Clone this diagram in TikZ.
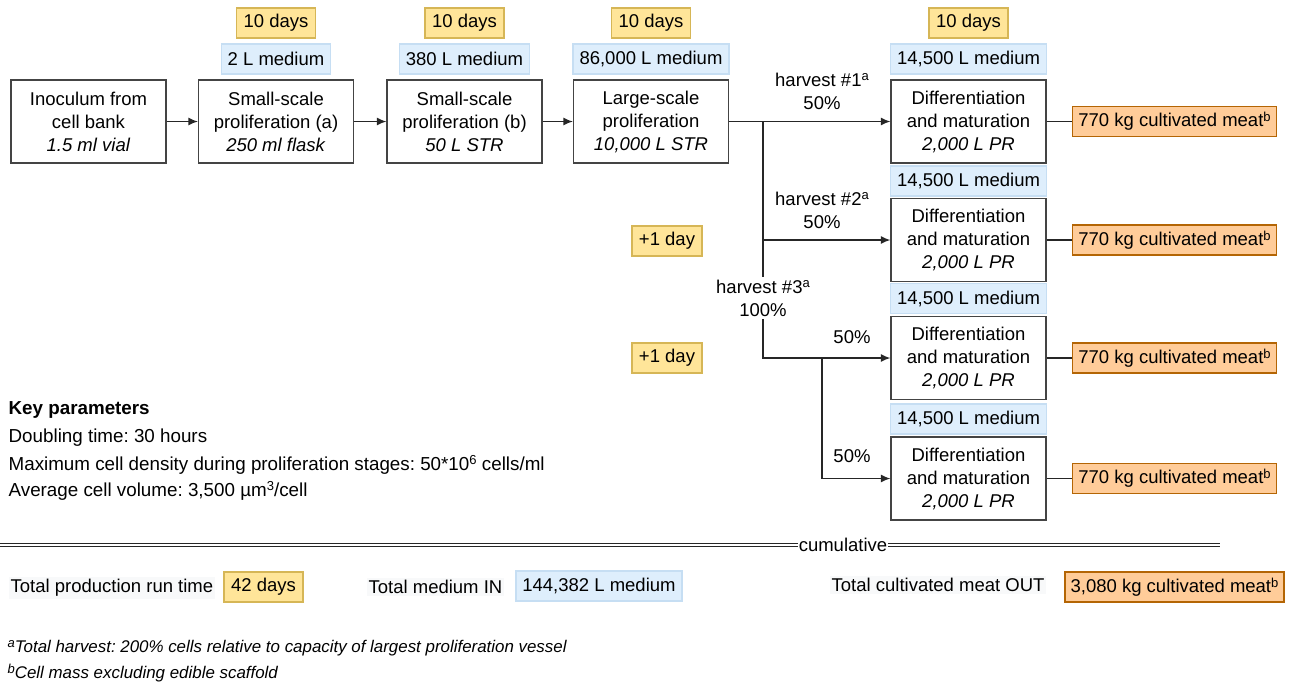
\documentclass[tikz,border=0pt]{standalone}
\usepackage{fontspec}
\setmainfont{Liberation Sans}
\usetikzlibrary{arrows.meta}
\frenchspacing
\definecolor{daysfill}{HTML}{FFE599}
\definecolor{daysline}{HTML}{D6B656}
\definecolor{medfill}{HTML}{DEEEFC}
\definecolor{medline}{HTML}{C6DEF3}
\definecolor{meatfill}{HTML}{FFCC99}
\definecolor{meatline}{HTML}{B46504}
\definecolor{boxline}{HTML}{444444}
\definecolor{notefill}{HTML}{F8F9FA}
\newcommand{\supr}[1]{\raisebox{0.55ex}{\fontsize{13}{13}\selectfont #1}}

\begin{document}
\begin{tikzpicture}[x=1pt,y=-1pt,->,>={Latex[length=9.5pt,width=8pt]},line width=1.3pt,draw=black!85,
  every node/.style={font=\fontsize{18.5}{23}\selectfont},
  stage/.style={draw=boxline,fill=white,minimum width=155pt,minimum height=83pt,align=center,inner sep=0pt},
  days/.style={draw=daysline,fill=daysfill,minimum height=30pt,inner xsep=7pt,inner ysep=0pt},
  medium/.style={draw=medline,fill=medfill,minimum height=30pt,inner xsep=6.5pt,inner ysep=0pt},
  meat/.style={draw=meatline,fill=meatfill,minimum height=30pt,inner xsep=5.5pt,inner ysep=0pt},
  split/.style={align=center,inner sep=2pt},
  total/.style={fill=notefill,inner sep=2pt},
  param/.style={anchor=west,inner sep=0pt,font=\fontsize{18.8}{23}\selectfont},
  note/.style={anchor=west,inner sep=0pt,font=\fontsize{16.9}{20}\selectfont\itshape}]
  \useasboundingbox (0,0) rectangle (1293,686);

  \node[stage] (inoc) at (88.5,121.5) {Inoculum from\\cell bank\\\textit{1.5 ml vial}};
  \node[stage] (prolA) at (276,121.5) {Small-scale\\proliferation (a)\\\textit{250 ml flask}};
  \node[stage] (prolB) at (464.5,121.5) {Small-scale\\proliferation (b)\\\textit{50 L STR}};
  \node[stage] (prolL) at (651,121.5) {Large-scale\\proliferation\\\textit{10,000 L STR}};
  \node[stage] (diff1) at (968.5,121.5) {Differentiation\\and maturation\\\textit{2,000 L PR}};
  \node[stage] (diff2) at (968.5,240) {Differentiation\\and maturation\\\textit{2,000 L PR}};
  \node[stage] (diff3) at (968.5,358) {Differentiation\\and maturation\\\textit{2,000 L PR}};
  \node[stage] (diff4) at (968.5,478.5) {Differentiation\\and maturation\\\textit{2,000 L PR}};

  \node[days] (daysA) at (276,23) {10 days};
  \node[days] (daysB) at (464.5,23) {10 days};
  \node[days] (daysL) at (651,23) {10 days};
  \node[days] (daysD) at (968.5,23) {10 days};
  \node[days] (extra1) at (667,241) {+1 day};
  \node[days] (extra2) at (667,358) {+1 day};

  \node[medium] (medA) at (276,59) {2 L medium};
  \node[medium] (medB) at (464.5,59) {380 L medium};
  \node[medium] (medL) at (651,59) {86,000 L medium};
  \node[medium] (med1) at (968.5,59) {14,500 L medium};
  \node[medium] (med2) at (968.5,181) {14,500 L medium};
  \node[medium] (med3) at (968.5,298.5) {14,500 L medium};
  \node[medium] (med4) at (968.5,419) {14,500 L medium};

  \node[meat] (meat1) at (1174.5,121.5) {770 kg cultivated meat\supr{b}};
  \node[meat] (meat2) at (1174.5,240) {770 kg cultivated meat\supr{b}};
  \node[meat] (meat3) at (1174.5,358) {770 kg cultivated meat\supr{b}};
  \node[meat] (meat4) at (1174.5,478.5) {770 kg cultivated meat\supr{b}};

  \node[split] (harv1) at (822,91) {harvest \#1\supr{a}\\50\%};
  \node[split] (harv2) at (822,210) {harvest \#2\supr{a}\\50\%};
  \node[split] (harv3) at (763,298) {harvest \#3\supr{a}\\100\%};
  \node[split] (half3) at (852,337) {50\%};
  \node[split] (half4) at (852,456) {50\%};

  \coordinate (split1) at (763,121.5);
  \coordinate (split3) at (822,358);

  \draw (inoc) -- (prolA);
  \draw (prolA) -- (prolB);
  \draw (prolB) -- (prolL);
  \draw (prolL) -- (diff1);
  \draw (split1) |- (diff2);
  \draw[-] (split1) -- (harv3);
  \draw (harv3) |- (diff3);
  \draw (split3) |- (diff4);
  \draw[-] (diff1) -- (meat1);
  \draw[-] (diff2) -- (meat2);
  \draw[-] (diff3) -- (meat3);
  \draw[-] (diff4) -- (meat4);

  \node[param,font=\fontsize{18.8}{23}\selectfont\bfseries] (keys) at (8,410) {Key parameters};
  \node[param] (doubling) at (8,438) {Doubling time: 30 hours};
  \node[param] (density) at (8,465) {Maximum cell density during proliferation stages: 50*10\supr{6} cells/ml};
  \node[param] (volume) at (8,491) {Average cell volume: 3,500 µm\supr{3}/cell};

  \node[inner sep=0pt] (cumul) at (843,545) {cumulative};
  \coordinate (ruleL) at (0,545);
  \coordinate (ruleR) at (1220,545);
  \draw[-,line width=0.9pt,double,double distance=2.2pt] (ruleL) -- (cumul);
  \draw[-,line width=0.9pt,double,double distance=2.2pt] (cumul) -- (ruleR);

  \node[total,anchor=west] (runtime) at (8,588) {Total production run time};
  \node[days] (runtimeval) at (263.5,587) {42 days};
  \node[total,anchor=west] (medin) at (366,587) {Total medium IN};
  \node[medium] (medinval) at (599,586) {144,382 L medium};
  \node[total,anchor=west] (meatout) at (829,585) {Total cultivated meat OUT};
  \node[meat] (meatoutval) at (1174.5,587) {3,080 kg cultivated meat\supr{b}};

  \node[note] (noteA) at (7,648) {\supr{\itshape a}Total harvest: 200\% cells relative to capacity of largest proliferation vessel};
  \node[note] (noteB) at (7,673) {\supr{\itshape b}Cell mass excluding edible scaffold};
\end{tikzpicture}
\end{document}
